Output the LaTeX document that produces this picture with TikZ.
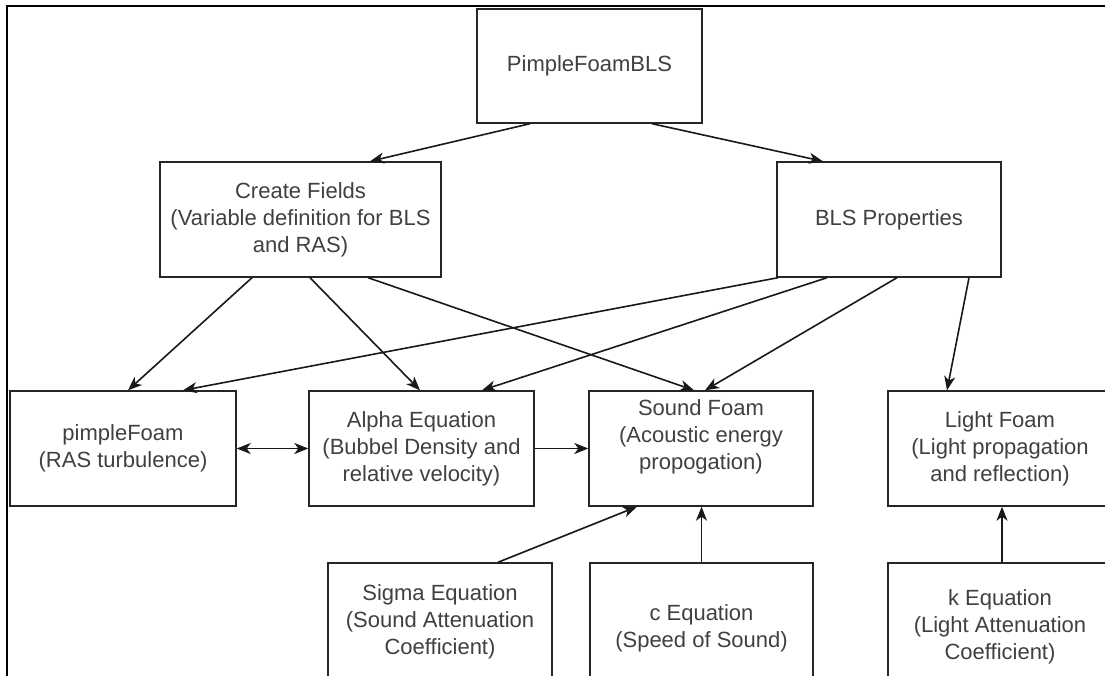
\documentclass[tikz,border=0pt]{standalone}
\usepackage{fontspec}
\setmainfont{Liberation Sans}
\usetikzlibrary{arrows.meta,calc}
\begin{document}
\begin{tikzpicture}[x=1pt,y=-1pt,
  box/.style={draw=black!85, line width=1.4pt, fill=white, minimum width=224pt, minimum height=115pt,
    inner sep=0pt, align=center, text=black!75, font=\fontsize{22}{27}\selectfont},
  txt/.style={inner sep=0pt, align=center, text=black!75, font=\fontsize{22}{27}\selectfont},
  arr/.style={draw=black!90, line width=1.6pt, -{Stealth[length=14pt,width=11pt,inset=4pt]}},
  darr/.style={draw=black!90, line width=1.6pt, {Stealth[length=14pt,width=11pt,inset=4pt]}-{Stealth[length=14pt,width=11pt,inset=4pt]}}]
\useasboundingbox (0,0) rectangle (1105,676);
\clip (0,0) rectangle (1105,676);
\fill[white] (0,0) rectangle (1105,676);
\coordinate (fbl) at (7,676);
\coordinate (ftl) at (7,6);
\coordinate (ftr) at (1105,6);
\draw[line width=2.8pt, black] (fbl) -- (ftl) -- (ftr);

\node[box, minimum width=225pt, minimum height=114pt] (top) at (589.5,66) {PimpleFoamBLS};
\node[box, minimum width=281pt] (cf) at (300.5,219.5) {Create Fields\\(Variable definition for BLS\\and RAS)};
\node[box] (bls) at (889,219.5) {BLS Properties};
\node[box, minimum width=226pt] (pf) at (123,448.5) {pimpleFoam\\(RAS turbulence)};
\node[box, minimum width=225pt] (alpha) at (421.5,448.5) {Alpha Equation\\(Bubbel Density and\\relative velocity)};
\node[box] (sound) at (701,448.5) {};
\node[txt] (soundT) at (701,437) {Sound Foam\\(Acoustic energy\\propogation)};
\node[box] (light) at (1000,448.5) {Light Foam\\(Light propagation\\and reflection)};
\node[box] (sigma) at (440,620.5) {};
\node[txt] (sigmaT) at (440,622) {Sigma Equation\\(Sound Attenuation\\Coefficient)};
\node[box, minimum width=223pt] (c) at (701.5,620.5) {};
\node[txt] (cT) at (701.5,628) {c Equation\\(Speed of Sound)};
\node[box] (k) at (1000,620.5) {};
\node[txt] (kT) at (1000,627) {k Equation\\(Light Attenuation\\Coefficient)};

\draw[arr] ([xshift=-59.5pt]top.south) -- ([xshift=69.5pt]cf.north);
\draw[arr] ([xshift=62.5pt]top.south) -- ([xshift=-66pt]bls.north);
\draw[arr] ([xshift=-48.5pt]cf.south) -- ([xshift=5pt]pf.north);
\draw[arr] ([xshift=9.5pt]cf.south) -- ([xshift=-1.5pt]alpha.north);
\draw[arr] ([xshift=67.5pt]cf.south) -- ([xshift=-7pt]sound.north);
\draw[arr] ([xshift=-111pt]bls.south) -- ([xshift=60pt]pf.north);
\draw[arr] ([xshift=-62pt]bls.south) -- ([xshift=60.5pt]alpha.north);
\draw[arr] ([xshift=8pt]bls.south) -- ([xshift=4pt]sound.north);
\draw[arr] ([xshift=80pt]bls.south) -- ([xshift=-53pt]light.north);
\draw[darr] (pf.east) -- (alpha.west);
\draw[arr] (alpha.east) -- (sound.west);
\draw[arr] ([xshift=58pt]sigma.north) -- ([xshift=-64pt]sound.south);
\draw[arr] (c.north) -- (c.north |- sound.south);
\draw[arr] ([xshift=2pt]k.north) -- ([xshift=2pt]light.south);
\end{tikzpicture}
\end{document}
